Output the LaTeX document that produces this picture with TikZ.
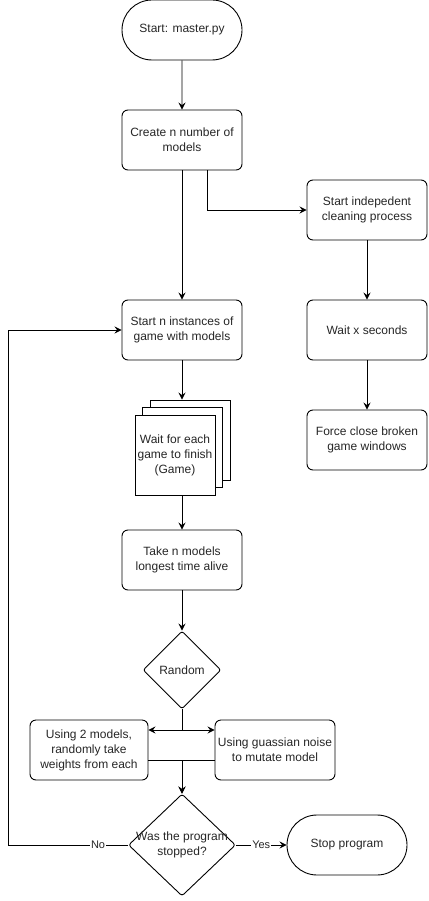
\documentclass[tikz,border=0pt]{standalone}
\usepackage{fontspec}
\setmainfont{Liberation Sans}
\usetikzlibrary{shapes.geometric,shapes.misc,arrows.meta,calc}
\begin{document}
\begin{tikzpicture}[x=1pt,y=-1pt,
  every node/.style={font=\fontsize{12}{15}\selectfont, text=black!85},
  proc/.style={draw, rounded corners=6pt, minimum width=120pt, minimum height=60pt, align=center, inner sep=0pt, line width=0.9pt},
  term/.style={draw, rounded rectangle, minimum width=120pt, minimum height=60pt, align=center, inner sep=0pt, line width=0.9pt},
  dec/.style={draw, diamond, rounded corners=2.5pt, align=center, inner sep=0pt, line width=0.9pt},
  page/.style={draw, fill=white, minimum width=80pt, minimum height=80pt, align=center, inner sep=0pt, line width=0.9pt},
  link/.style={line width=0.9pt, -{Stealth[length=7pt,width=7pt,inset=2.5pt]}},
  lbl/.style={fill=white, inner sep=1pt, font=\fontsize{11}{13}\selectfont}]
\useasboundingbox (0,0) rectangle (428,901);

\node[term] (start) at (182,30) {Start: master.py};
\node[proc] (create) at (182,140) {Create n number of\\models};
\node[proc] (clean) at (367,210) {Start indepedent\\cleaning process};
\node[proc] (inst) at (182,330) {Start n instances of\\game with models};
\node[proc] (wait) at (367,330) {Wait x seconds};
\node[proc] (force) at (367,440) {Force close broken\\game windows};
\node[page] (doc3) at (190,440) {};
\node[page] (doc2) at (182,447) {};
\node[page] (doc1) at (175,455) {Wait for each\\game to finish\\(Game)};
\node[proc] (take) at (182,560) {Take n models\\longest time alive};
\node[dec, minimum width=78pt, minimum height=78pt] (rand) at (182,670) {Random};
\node[proc, minimum width=118pt] (cross) at (89,750) {Using 2 models,\\randomly take\\weights from each};
\node[proc] (mut) at (275,750) {Using guassian noise\\to mutate model};
\node[dec, minimum width=107pt, minimum height=102pt] (stop) at (182,845) {};
\node[align=center] (stoptext) at (stop.center) {Was the program\\stopped?};
\node[term] (end) at (347,845) {Stop program};
\coordinate (loop) at (8,845);

\draw[link] (start) -- (create);
\draw[link] (create) -- (inst);
\draw[link] ([xshift=25pt]create.south) |- (clean.west);
\draw[link] (clean) -- (wait);
\draw[link] (wait) -- (force);
\draw[link] (inst.south) -- (inst.south |- doc3.north);
\draw[link] (take.north |- doc1.south) -- (take.north);
\draw[link] (take) -- (rand);
\draw[link] (rand.south) |- ([yshift=20pt]cross.east);
\draw[link] (rand.south) |- ([yshift=20pt]mut.west);
\draw[link] ([yshift=-10pt]cross.east) -| (stop.north);
\draw[link] ([yshift=-10pt]mut.west) -| (stop.north);
\draw[link] (stop.west) -- node[lbl, pos=0.25] {No} (loop) |- (inst.west);
\draw[link] (stop.east) -- node[lbl] {Yes} (end.west);
\end{tikzpicture}
\end{document}
